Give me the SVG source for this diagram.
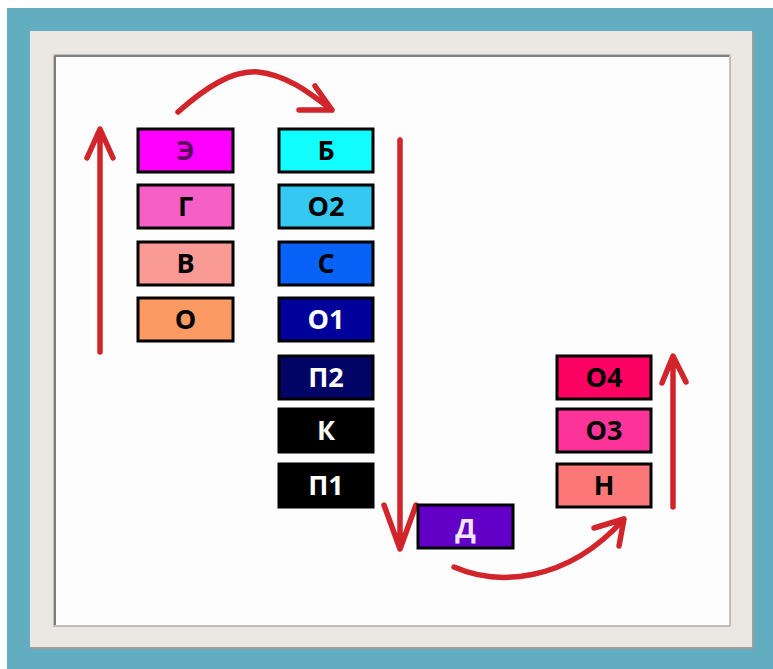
<svg xmlns="http://www.w3.org/2000/svg" width="773" height="669" viewBox="0 0 773 669">
<style>
.box{stroke:#000;stroke-width:3}
.t{font-family:"Open Sans","DejaVu Sans",sans-serif;font-weight:bold;font-size:27px;text-anchor:middle}
.arr{fill:none;stroke:#d1252b;stroke-width:5.5;stroke-linecap:round;stroke-linejoin:round}
</style>
<rect x="0" y="0" width="773" height="669" fill="#ffffff"/>
<rect x="7" y="8" width="766" height="661" fill="#62adc0"/>
<rect x="31" y="32" width="723" height="617" fill="#a09f9b"/>
<rect x="30" y="31" width="722" height="616" fill="#ebe8e3"/>
<rect x="54" y="55" width="676" height="571" fill="#fdfdfd" stroke="#b0afac" stroke-width="1.5"/>
<path d="M55,56 H729 M55,56 V625" stroke="#7e7e7c" stroke-width="2" fill="none"/>

<g id="connectors">
<path class="arr" d="M100,352 L100,130 M87,158 L100,129 L113,158"/>
<path class="arr" d="M178,112 C205,88 232,70 258,72 C288,75 312,95 332,110 M315,86 L332,110 L299,110"/>
<path class="arr" d="M400,140 L400,548 M384,505 L400,549 L416,505"/>
<path class="arr" d="M454,567 C495,585 565,585 624,519 M594,528 L624,519 L619,546"/>
<path class="arr" d="M673,507 L673,357 M662,383 L673,356 L686,382"/>
</g>

<g id="node-E"><rect class="box" x="138" y="129" width="95" height="43" fill="#ff00ff"/><text class="t" x="185.5" y="160" fill="#5a0a5e">Э</text></g>
<g id="node-G"><rect class="box" x="138" y="185" width="95" height="43" fill="#f55fc6"/><text class="t" x="185.5" y="216" fill="#000">Г</text></g>
<g id="node-V"><rect class="box" x="138" y="242" width="95" height="43" fill="#fa9a94"/><text class="t" x="185.5" y="273" fill="#000">В</text></g>
<g id="node-O"><rect class="box" x="138" y="298" width="95" height="43" fill="#fb9a62"/><text class="t" x="185.5" y="329" fill="#000">О</text></g>

<g id="node-B"><rect class="box" x="279" y="129" width="94" height="43" fill="#12fdfd"/><text class="t" x="326" y="160" fill="#000">Б</text></g>
<g id="node-O2"><rect class="box" x="279" y="185" width="94" height="43" fill="#35c8f0"/><text class="t" x="326" y="216" fill="#000">О2</text></g>
<g id="node-S"><rect class="box" x="279" y="242" width="94" height="43" fill="#0862f8"/><text class="t" x="326" y="273" fill="#000">С</text></g>
<g id="node-O1"><rect class="box" x="279" y="298" width="94" height="43" fill="#00009a"/><text class="t" x="326" y="329" fill="#fff">О1</text></g>
<g id="node-P2"><rect class="box" x="279" y="356" width="94" height="43" fill="#020466"/><text class="t" x="326" y="387" fill="#fff">П2</text></g>
<g id="node-K"><rect class="box" x="279" y="409" width="94" height="43" fill="#000"/><text class="t" x="326" y="440" fill="#fff">К</text></g>
<g id="node-P1"><rect class="box" x="279" y="464" width="94" height="43" fill="#000"/><text class="t" x="326" y="495" fill="#fff">П1</text></g>

<g id="node-D"><rect class="box" x="418" y="505" width="95" height="43" fill="#6200c8"/><text class="t" x="465.5" y="538" fill="#f2e6ff">Д</text></g>

<g id="node-O4"><rect class="box" x="557" y="356" width="94" height="43" fill="#fc0363"/><text class="t" x="604" y="387" fill="#000">О4</text></g>
<g id="node-O3"><rect class="box" x="557" y="409" width="94" height="43" fill="#fc3499"/><text class="t" x="604" y="440" fill="#000">О3</text></g>
<g id="node-N"><rect class="box" x="557" y="464" width="94" height="43" fill="#fc7878"/><text class="t" x="604" y="495" fill="#000">Н</text></g>
</svg>
